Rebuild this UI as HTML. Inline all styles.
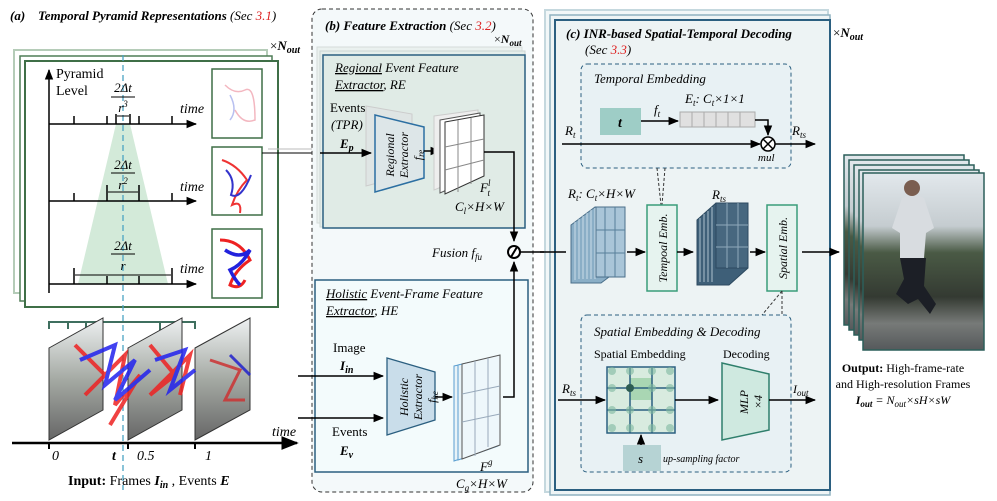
<!DOCTYPE html>
<html><head><meta charset="utf-8"><style>
body{margin:0;background:#fff}
svg{display:block;font-family:"Liberation Serif",serif}
.i{font-style:italic}
</style></head><body>
<svg width="997" height="501" viewBox="0 0 997 501" xmlns="http://www.w3.org/2000/svg">
<defs>
<marker id="a" viewBox="0 0 10 10" refX="9" refY="5" markerWidth="7" markerHeight="7" orient="auto"><path d="M0,1 L10,5 L0,9z" fill="#000"/></marker>
<linearGradient id="ph" x1="0" y1="0" x2="0" y2="1"><stop offset="0" stop-color="#e2e8ec"/><stop offset="0.3" stop-color="#c5ccd0"/><stop offset="0.45" stop-color="#4a5a45"/><stop offset="0.7" stop-color="#343a32"/><stop offset="0.85" stop-color="#777a78"/><stop offset="1" stop-color="#55595b"/></linearGradient>
<linearGradient id="fr" x1="0" y1="0" x2="0" y2="1"><stop offset="0" stop-color="#eef1f2"/><stop offset="0.5" stop-color="#a5aaa4"/><stop offset="1" stop-color="#666"/></linearGradient>
</defs>

<!-- (a) -->
<text x="10" y="20" font-size="13" font-weight="bold" class="i">(a)</text>
<text x="38" y="20" font-size="13" font-weight="bold" class="i">Temporal Pyramid Representations <tspan font-weight="normal">(Sec </tspan><tspan font-weight="normal" fill="#d22">3.1</tspan><tspan font-weight="normal">)</tspan></text>
<text x="270" y="50" font-size="13">×<tspan font-weight="bold" class="i">N</tspan><tspan font-weight="bold" class="i" font-size="10" dy="3">out</tspan></text>
<rect x="14" y="50" width="253" height="243" fill="none" stroke="#b5ccb8" stroke-width="2"/>
<rect x="20" y="56" width="252" height="245" fill="#fff" stroke="#4f7d57" stroke-width="1.5"/>
<rect x="25" y="61" width="253" height="246" fill="#fff" stroke="#3f6f47" stroke-width="2"/>
<polygon points="116,124 130,124 168,284 78,284" fill="#d3ead9"/>
<line x1="123" y1="55" x2="123" y2="490" stroke="#4aa3c3" stroke-width="1.3" stroke-dasharray="6,4"/>
<g stroke="#000" stroke-width="1.5" fill="none">
<line x1="49" y1="293" x2="49" y2="70" marker-end="url(#a)"/>
<line x1="49" y1="124" x2="196" y2="124" marker-end="url(#a)"/>
<line x1="49" y1="201" x2="196" y2="201" marker-end="url(#a)"/>
<line x1="49" y1="284" x2="196" y2="284" marker-end="url(#a)"/>
<path d="M74,116v8M107,116v8M139,116v8M172,116v8M74,193v8M107,193v8M139,193v8M172,193v8M74,276v8M107,276v8M139,276v8M172,276v8"/>
<path d="M116,114v10M130,114v10M107,193v-8M139,193v-8M74,276v-8M172,276v-8"/>
<line x1="117" y1="116" x2="129" y2="116" stroke-width="1"/>
<line x1="108" y1="192" x2="138" y2="192" stroke-width="1"/>
<line x1="75" y1="275" x2="171" y2="275" stroke-width="1"/>
</g>
<text x="56" y="78" font-size="14">Pyramid</text><text x="56" y="95" font-size="14">Level</text>
<g font-size="13" text-anchor="middle" class="i">
<text x="123" y="92">2Δt</text><line x1="111" y1="97" x2="135" y2="97" stroke="#000"/><text x="123" y="112">r<tspan font-size="9" dy="-5">3</tspan></text>
<text x="123" y="169">2Δt</text><line x1="111" y1="173" x2="135" y2="173" stroke="#000"/><text x="123" y="189">r<tspan font-size="9" dy="-5">2</tspan></text>
<text x="123" y="250">2Δt</text><line x1="111" y1="254" x2="135" y2="254" stroke="#000"/><text x="123" y="270">r</text>
</g>
<g font-size="14" class="i"><text x="180" y="113">time</text><text x="180" y="191">time</text><text x="180" y="273">time</text></g>
<g stroke="#3f6f47" stroke-width="1.5" fill="#fff">
<rect x="212" y="69" width="50" height="69"/><rect x="212" y="147" width="50" height="68"/><rect x="212" y="229" width="50" height="69"/>
</g>
<g fill="none" stroke-width="1.5">
<path d="M225,85 q10,10 20,5 t10,30 q-12,5 -20,-10" stroke="#f3b7c0"/>
<path d="M230,95 q8,15 0,25" stroke="#b8c0f0"/>
<path d="M222,160 q15,5 25,20 q-10,10 -15,25 q10,-5 8,8" stroke="#e33" stroke-width="2"/>
<path d="M226,170 q10,10 5,25 q10,5 20,-20" stroke="#33c" stroke-width="2"/>
<path d="M220,240 q20,0 30,20 q-15,10 -20,25 q10,5 15,-5" stroke="#e22" stroke-width="3"/>
<path d="M225,250 q15,10 25,0 q-8,15 -20,20 q5,10 10,15" stroke="#22d" stroke-width="3.5"/>
</g>
<line x1="262" y1="153" x2="320" y2="153" stroke="#000" stroke-width="1"/>
<line x1="268" y1="149" x2="320" y2="149" stroke="#bbb" stroke-width="1"/>

<!-- bracket -->
<path d="M49,329v-7h146v7M68,322v7M86,322v8M160,322v8M178,322v8" stroke="#3f6f5f" stroke-width="2" fill="none"/>
<!-- input frames -->
<g stroke="#333" stroke-width="1">
<polygon points="49,348 103,318 103,410 49,440" fill="url(#fr)"/>
<polygon points="128,348 182,318 182,410 128,440" fill="url(#fr)"/>
<polygon points="195,348 250,318 250,410 195,440" fill="url(#fr)"/>
</g>
<g fill="none" stroke-width="4" opacity="0.85">
<path d="M75,345 l30,30 l-20,20 l40,-40 l-10,50 l25,-30 l-30,50" stroke="#e22"/>
<path d="M80,360 l35,-15 l-10,40 l30,-25 l-20,40 l35,-30" stroke="#22e"/>
<path d="M150,345 l25,30 l-25,20 l40,-40 l-10,40" stroke="#e22"/>
<path d="M155,360 l30,-10 l-15,40 l25,-20" stroke="#22e"/>
<path d="M210,360 l30,10 l-15,30 l20,0" stroke="#c33" stroke-width="3"/>
<path d="M230,355 l20,20" stroke="#22c" stroke-width="3"/>
</g>
<line x1="12" y1="443" x2="297" y2="443" stroke="#000" stroke-width="2.5" marker-end="url(#a)"/>
<path d="M49,443v6M128,443v6M195,443v6" stroke="#000" stroke-width="2"/>
<text x="272" y="436" font-size="14" class="i">time</text>
<g font-size="14" class="i"><text x="52" y="460">0</text><text x="112" y="460" font-weight="bold">t</text><text x="137" y="460">0.5</text><text x="205" y="460">1</text></g>
<text x="68" y="485" font-size="14"><tspan font-weight="bold">Input:</tspan> Frames <tspan font-weight="bold" class="i">I<tspan font-size="10" dy="3">in</tspan></tspan><tspan dy="-3"> , Events </tspan><tspan font-weight="bold" class="i">E</tspan></text>

<!-- (b) -->
<rect x="312" y="9" width="221" height="483" rx="10" fill="#f4f9fa" stroke="#333" stroke-dasharray="4,3"/>
<text x="325" y="30" font-size="13" font-weight="bold" class="i">(b) Feature Extraction <tspan font-weight="normal">(Sec </tspan><tspan font-weight="normal" fill="#d22">3.2</tspan><tspan font-weight="normal">)</tspan></text>
<rect x="317" y="47" width="205" height="176" fill="#eaf1ef" stroke="#d5dcda"/>
<rect x="320" y="51" width="205" height="176" fill="#e5eeeb" stroke="#ccd5d3"/>
<rect x="323" y="55" width="202" height="173" fill="#e0ebe6" stroke="#2b5f80" stroke-width="1.5"/>
<text x="494" y="43" font-size="12">×<tspan font-weight="bold" class="i">N</tspan><tspan font-weight="bold" class="i" font-size="9" dy="3">out</tspan></text>
<text x="335" y="72" font-size="13" class="i"><tspan text-decoration="underline">Regional</tspan> Event  Feature</text>
<text x="335" y="89" font-size="13" class="i"><tspan text-decoration="underline">Extractor</tspan>, RE</text>
<polygon points="366,106 412,114 412,174 366,186" fill="#dfe5e4" stroke="#ccc"/>
<text x="330" y="112" font-size="13">Events</text><text x="331" y="129" font-size="13" class="i">(TPR)</text>
<text x="340" y="148" font-size="13" font-weight="bold" class="i">E<tspan font-size="10" dy="3">p</tspan></text>
<polygon points="375,115 424,127 424,178 375,192" fill="#dde6e8" stroke="#2c6fa2" stroke-width="1.5"/>
<text transform="translate(394,155) rotate(-90)" font-size="12" class="i" text-anchor="middle">Regional<tspan x="0" dy="14">Extractor</tspan><tspan x="0" dy="14">f<tspan font-size="9" dy="2">re</tspan></tspan></text>
<line x1="320" y1="153" x2="371" y2="153" stroke="#000" stroke-width="1.5" marker-end="url(#a)"/>
<line x1="424" y1="151" x2="440" y2="151" stroke="#000" stroke-width="1.5" marker-end="url(#a)"/>
<g stroke="#555" fill="#fff"><polygon points="434,116 478,110 478,172 434,190" fill="#eee" stroke="#ccc"/><polygon points="440,120 480,113 480,175 440,193"/><polygon points="445,122 484,115 484,176 445,194" stroke="#333"/></g>
<path d="M458,120v72M471,118v66M445,147l39,-8M445,170l39,-10" stroke="#888" fill="none"/>
<text x="480" y="192" font-size="13" class="i">F<tspan font-size="9" dy="-6">l</tspan><tspan font-size="9" dx="-3" dy="10">t</tspan></text>
<text x="455" y="211" font-size="13" class="i">C<tspan font-size="9" dy="3">l</tspan><tspan dy="-3">×H×W</tspan></text>
<path d="M484,152H514V241" stroke="#000" stroke-width="1.5" fill="none" marker-end="url(#a)"/>
<text x="432" y="257" font-size="13" class="i">Fusion f<tspan font-size="9" dy="3">fu</tspan></text>
<circle cx="514" cy="252" r="6" fill="#fff" stroke="#000" stroke-width="2"/>
<line x1="511" y1="257" x2="517" y2="247" stroke="#000" stroke-width="2"/>
<rect x="315" y="280" width="213" height="192" fill="#f3fbfc" stroke="#2b5f80" stroke-width="1.5"/>
<text x="326" y="298" font-size="13" class="i"><tspan text-decoration="underline">Holistic</tspan> Event-Frame Feature</text>
<text x="326" y="315" font-size="13" class="i"><tspan text-decoration="underline">Extractor</tspan>, HE</text>
<text x="333" y="352" font-size="13">Image</text>
<text x="340" y="370" font-size="13" font-weight="bold" class="i">I<tspan font-size="10" dy="3">in</tspan></text>
<text x="332" y="436" font-size="13">Events</text>
<text x="340" y="455" font-size="13" font-weight="bold" class="i">E<tspan font-size="10" dy="3">v</tspan></text>
<line x1="298" y1="376" x2="383" y2="376" stroke="#000" stroke-width="1.5" marker-end="url(#a)"/>
<line x1="298" y1="418" x2="383" y2="418" stroke="#000" stroke-width="1.5" marker-end="url(#a)"/>
<polygon points="387,358 435,372 435,420 387,435" fill="#c9ddea" stroke="#2b5f80" stroke-width="1.3"/>
<text transform="translate(408,397) rotate(-90)" font-size="12" class="i" text-anchor="middle">Holistic<tspan x="0" dy="14">Extractor</tspan><tspan x="0" dy="14">f<tspan font-size="9" dy="2">he</tspan></tspan></text>
<line x1="435" y1="397" x2="452" y2="397" stroke="#000" stroke-width="1.5" marker-end="url(#a)"/>
<g stroke="#5a9ed0" fill="#e8f3f8"><polygon points="454,366 494,357 494,447 454,461"/><polygon points="458,365 498,356 498,446 458,460"/><polygon points="462,364 500,355 500,445 462,459" fill="#eef7fb" stroke="#555"/></g>
<path d="M475,361v95M488,358v89M462,394l38,-8M462,422l38,-8" stroke="#9ab" fill="none"/>
<text x="480" y="471" font-size="13" class="i">F<tspan font-size="9" dy="-6">g</tspan></text>
<text x="456" y="488" font-size="13" class="i">C<tspan font-size="9" dy="3">g</tspan><tspan dy="-3">×H×W</tspan></text>
<path d="M503,397H514V262" stroke="#000" stroke-width="1.5" fill="none" marker-end="url(#a)"/>
<line x1="520" y1="252" x2="568" y2="252" stroke="#000" stroke-width="1.5" marker-end="url(#a)"/>

<!-- (c) -->
<rect x="545" y="10" width="283" height="482" fill="#f2f7f8" stroke="#c5d8de" stroke-width="2"/>
<rect x="550" y="15" width="280" height="480" fill="#eef4f5" stroke="#8fb2c0" stroke-width="1.5"/>
<rect x="555" y="20" width="275" height="470" fill="#edf3f4" stroke="#2b5f80" stroke-width="2"/>
<text x="833" y="37" font-size="13">×<tspan font-weight="bold" class="i">N</tspan><tspan font-weight="bold" class="i" font-size="10" dy="3">out</tspan></text>
<text x="566" y="38" font-size="13" font-weight="bold" class="i">(c) INR-based Spatial-Temporal Decoding</text>
<text x="585" y="54" font-size="13" class="i">(Sec <tspan fill="#d22">3.3</tspan>)</text>
<rect x="581" y="64" width="210" height="104" rx="6" fill="#e8f1f4" stroke="#2b5f80" stroke-dasharray="4,3"/>
<text x="594" y="83" font-size="13" class="i">Temporal Embedding</text>
<rect x="600" y="108" width="41" height="27" fill="#9ecdc6"/>
<text x="620" y="127" font-size="14" font-weight="bold" class="i" text-anchor="middle">t</text>
<line x1="641" y1="121" x2="678" y2="121" stroke="#000" stroke-width="1.5" marker-end="url(#a)"/>
<text x="654" y="114" font-size="13" class="i">f<tspan font-size="9" dy="3">t</tspan></text>
<text x="685" y="103" font-size="13" class="i">E<tspan font-size="9" dy="3">t</tspan><tspan dy="-3">: C</tspan><tspan font-size="9" dy="3">t</tspan><tspan dy="-3">×1×1</tspan></text>
<rect x="680" y="112" width="75" height="15" fill="#e0e0e0" stroke="#aaa"/>
<path d="M692,112v15M704,112v15M716,112v15M728,112v15M740,112v15" stroke="#aaa"/>
<path d="M755,120H768V135" stroke="#000" stroke-width="1.5" fill="none" marker-end="url(#a)"/>
<line x1="562" y1="144" x2="760" y2="144" stroke="#000" stroke-width="1.5" marker-end="url(#a)"/>
<circle cx="768" cy="144" r="7" fill="#fff" stroke="#000" stroke-width="1.5"/>
<path d="M763,139l10,10M773,139l-10,10" stroke="#000" stroke-width="1.5"/>
<line x1="775" y1="144" x2="815" y2="144" stroke="#000" stroke-width="1.5" marker-end="url(#a)"/>
<text x="565" y="135" font-size="13" class="i">R<tspan font-size="9" dy="3">t</tspan></text>
<text x="792" y="135" font-size="13" class="i">R<tspan font-size="9" dy="3">ts</tspan></text>
<text x="758" y="161" font-size="11" class="i">mul</text>
<path d="M657,168L661,205M665,168L662,205" stroke="#333" stroke-dasharray="3,2" fill="none"/>
<text x="568" y="198" font-size="13" class="i">R<tspan font-size="9" dy="3">t</tspan><tspan dy="-3">: C</tspan><tspan font-size="9" dy="3">t</tspan><tspan dy="-3">×H×W</tspan></text>
<polygon points="571,225 595,207 625,207 625,265 601,283 571,283" fill="#8aaec6" stroke="#4a6f8a"/>
<path d="M575,222v58M579,219v60M583,216v63M587,213v66M591,210v69M595,208v71" stroke="#dbe8f0" stroke-width="0.8"/>
<rect x="596" y="207" width="29" height="70" fill="#a9c5d8" stroke="#4a6f8a"/>
<path d="M605,207v70M615,207v70M596,230h29M596,253h29" stroke="#57809a"/>
<line x1="540" y1="252" x2="566" y2="252" stroke="#000" stroke-width="1.5"/>
<line x1="627" y1="252" x2="645" y2="252" stroke="#000" stroke-width="1.5" marker-end="url(#a)"/>
<rect x="647" y="205" width="30" height="86" fill="#e6f3ef" stroke="#3a9d7a" stroke-width="1.5"/>
<text transform="translate(667,248) rotate(-90)" font-size="12" class="i" text-anchor="middle">Tempoal Emb.</text>
<line x1="677" y1="252" x2="693" y2="252" stroke="#000" stroke-width="1.5" marker-end="url(#a)"/>
<text x="712" y="199" font-size="13" class="i">R<tspan font-size="9" dy="3">ts</tspan></text>
<polygon points="697,220 716,203 748,203 748,268 729,285 697,285" fill="#3e5f78" stroke="#2d4a60"/>
<path d="M700,218v64M704,214v68M708,211v71M712,207v75" stroke="#c9d9e4" stroke-width="0.8"/>
<rect x="716" y="203" width="32" height="65" fill="#47677f" stroke="#2d4a60"/>
<path d="M727,203v65M738,203v65M716,225h32M716,247h32" stroke="#8fa9bb"/>
<line x1="750" y1="252" x2="765" y2="252" stroke="#000" stroke-width="1.5" marker-end="url(#a)"/>
<rect x="767" y="205" width="30" height="86" fill="#e6f3ef" stroke="#3a9d7a" stroke-width="1.5"/>
<text transform="translate(787,248) rotate(-90)" font-size="12" class="i" text-anchor="middle">Spatial Emb.</text>
<line x1="802" y1="252" x2="839" y2="252" stroke="#000" stroke-width="1.5" marker-end="url(#a)"/>
<path d="M782,291L762,315M782,291V315" stroke="#333" stroke-dasharray="3,2" fill="none"/>
<rect x="581" y="315" width="210" height="157" rx="6" fill="#e8f1f4" stroke="#2b5f80" stroke-dasharray="4,3"/>
<text x="594" y="336" font-size="13" class="i">Spatial Embedding &amp; Decoding</text>
<text x="594" y="358" font-size="12">Spatial Embedding</text>
<text x="723" y="358" font-size="12">Decoding</text>
<rect x="607" y="367" width="68" height="66" fill="#d8ebdf" stroke="#2b6080" stroke-width="1.5"/>
<rect x="630" y="378" width="22" height="22" fill="#a9d6b3"/>
<path d="M630,367v66M652,367v66M607,388h68M607,410h68" stroke="#2b6080" stroke-width="1.5"/>
<g fill="#7fb9a0" opacity="0.6"><circle cx="612" cy="371" r="4"/><circle cx="630" cy="371" r="4"/><circle cx="652" cy="371" r="4"/><circle cx="670" cy="371" r="4"/><circle cx="612" cy="388" r="4"/><circle cx="652" cy="388" r="4"/><circle cx="670" cy="388" r="4"/><circle cx="612" cy="410" r="4"/><circle cx="630" cy="410" r="4"/><circle cx="652" cy="410" r="4"/><circle cx="670" cy="410" r="4"/><circle cx="612" cy="428" r="4"/><circle cx="630" cy="428" r="4"/><circle cx="652" cy="428" r="4"/><circle cx="670" cy="428" r="4"/></g>
<circle cx="630" cy="388" r="4" fill="#2d5d52"/>
<line x1="558" y1="400" x2="605" y2="400" stroke="#000" stroke-width="1.5" marker-end="url(#a)"/>
<text x="562" y="393" font-size="13" class="i">R<tspan font-size="9" dy="3">ts</tspan></text>
<line x1="675" y1="400" x2="718" y2="400" stroke="#000" stroke-width="1.5" marker-end="url(#a)"/>
<polygon points="722,363 769,374 769,430 722,440" fill="#cfe9e0" stroke="#2f7f6c" stroke-width="1.5"/>
<text transform="translate(748,402) rotate(-90)" font-size="12" class="i" text-anchor="middle">MLP<tspan x="0" dy="14">×4</tspan></text>
<line x1="769" y1="400" x2="815" y2="400" stroke="#000" stroke-width="1.5" marker-end="url(#a)"/>
<text x="793" y="393" font-size="12" class="i">I<tspan font-size="9" dy="3">out</tspan></text>
<rect x="623" y="445" width="38" height="26" fill="#b6d3d4"/>
<text x="638" y="463" font-size="13" class="i">s</text>
<line x1="641" y1="445" x2="641" y2="435" stroke="#000" stroke-width="1.5" marker-end="url(#a)"/>
<text x="663" y="462" font-size="10" class="i">up-sampling factor</text>

<!-- output -->
<g stroke="#2c5f5a" stroke-width="1.5">
<rect x="844" y="155" width="120" height="170" fill="url(#ph)"/>
<rect x="849" y="160" width="120" height="170" fill="url(#ph)"/>
<rect x="854" y="165" width="120" height="170" fill="url(#ph)"/>
<rect x="859" y="170" width="120" height="170" fill="url(#ph)"/>
<rect x="863" y="173" width="121" height="177" fill="url(#ph)"/>
</g>
<path d="M902,198 q12,-6 22,0 l10,30 l-8,5 l-2,25 l-24,0 l0,-25 l-8,-5z" fill="#d8dce0"/>
<path d="M900,258 l26,0 l-2,28 l12,18 l-6,10 l-12,-15 l-10,5 l-12,-10 l8,-15z" fill="#1c1f26"/>
<circle cx="912" cy="188" r="8" fill="#7a5e50"/>
<text x="903" y="372" font-size="12" text-anchor="middle"><tspan font-weight="bold">Output:</tspan> High-frame-rate</text>
<text x="903" y="388" font-size="12" text-anchor="middle">and High-resolution Frames</text>
<text x="903" y="404" font-size="12" text-anchor="middle" class="i"><tspan font-weight="bold">I<tspan font-size="9" dy="3">out</tspan></tspan><tspan dy="-3"> = N</tspan><tspan font-size="9" dy="3">out</tspan><tspan dy="-3">×sH×sW</tspan></text>
</svg>
</body></html>
